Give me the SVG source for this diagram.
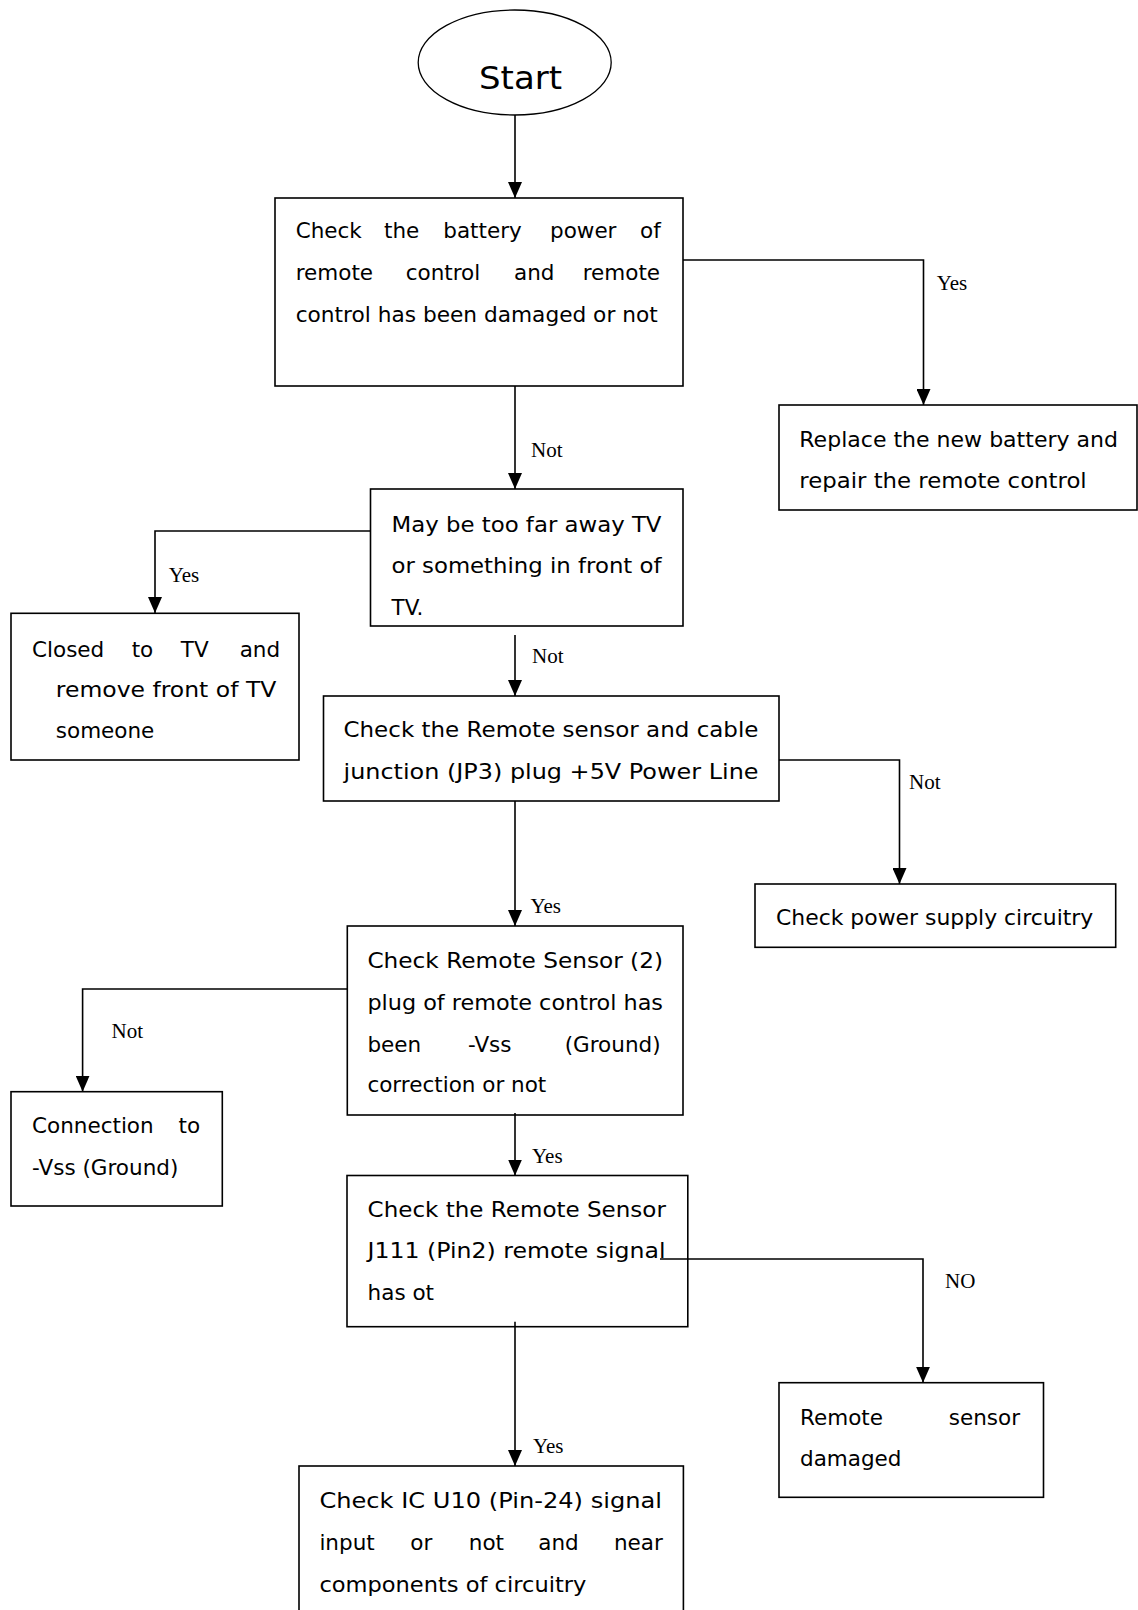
<svg xmlns="http://www.w3.org/2000/svg" width="1138" height="1610" viewBox="0 0 1138 1610">
<style>
.box{fill:#fff;stroke:#000;stroke-width:1.6}
.t{font-family:"DejaVu Sans",sans-serif;font-size:21.5px;fill:#000}
.lbl{font-family:"Liberation Serif",serif;font-size:21px;fill:#000}
.c{fill:none;stroke:#000;stroke-width:1.6}
</style>
<defs>
<marker id="ah" markerWidth="16" markerHeight="14" refX="16" refY="7" orient="auto" markerUnits="userSpaceOnUse" viewBox="0 0 16 14">
<path d="M0 0 L16 7 L0 14 Z" fill="#000"/>
</marker>
</defs>
<rect width="1138" height="1610" fill="#fff"/>
<g id="start">
<ellipse cx="514.7" cy="62.5" rx="96.5" ry="52.5" fill="#fff" stroke="#000" stroke-width="1.3"/>
<text class="t" style="font-size:32px" x="479" y="89" textLength="83" lengthAdjust="spacingAndGlyphs">Start</text>
</g>
<g id="box1">
<rect class="box" x="275" y="198" width="408" height="188"/>
<text class="t" y="238.3"><tspan x="295.7">Check</tspan><tspan x="384">the</tspan><tspan x="443.3">battery</tspan><tspan x="550">power</tspan><tspan x="640">of</tspan></text>
<text class="t" y="280"><tspan x="295.7">remote</tspan><tspan x="405.7">control</tspan><tspan x="514">and</tspan><tspan x="582.7">remote</tspan></text>
<text class="t" x="295.7" y="321.7" textLength="362" lengthAdjust="spacingAndGlyphs">control has been damaged or not</text>
</g>
<g id="replace">
<rect class="box" x="779" y="405" width="358" height="105"/>
<text class="t" x="799.3" y="446.7" textLength="318.7" lengthAdjust="spacingAndGlyphs">Replace the new battery and</text>
<text class="t" x="799.3" y="488.3" textLength="287.4" lengthAdjust="spacingAndGlyphs">repair the remote control</text>
</g>
<g id="box2">
<rect class="box" x="370.5" y="489" width="312.5" height="137"/>
<text class="t" x="391.5" y="531.7" textLength="270" lengthAdjust="spacingAndGlyphs">May be too far away TV</text>
<text class="t" x="391.5" y="573.3" textLength="270" lengthAdjust="spacingAndGlyphs">or something in front of</text>
<text class="t" x="391.5" y="615">TV.</text>
</g>
<g id="closed">
<rect class="box" x="11" y="613.3" width="288" height="146.7"/>
<text class="t" y="656.7"><tspan x="32">Closed</tspan><tspan x="131.7">to</tspan><tspan x="180.8">TV</tspan><tspan x="239.7">and</tspan></text>
<text class="t" x="55.8" y="696.7" textLength="220.5" lengthAdjust="spacingAndGlyphs">remove front of TV</text>
<text class="t" x="55.8" y="738.3">someone</text>
</g>
<g id="box3">
<rect class="box" x="323.5" y="696" width="455.5" height="105"/>
<text class="t" x="343.5" y="737" textLength="415" lengthAdjust="spacingAndGlyphs">Check the Remote sensor and cable</text>
<text class="t" x="343.5" y="779.3" textLength="415" lengthAdjust="spacingAndGlyphs">junction (JP3) plug +5V Power Line</text>
</g>
<g id="power">
<rect class="box" x="755" y="884" width="360.7" height="63.3"/>
<text class="t" x="776" y="925" textLength="317.3" lengthAdjust="spacingAndGlyphs">Check power supply circuitry</text>
</g>
<g id="box4">
<rect class="box" x="347.3" y="926" width="335.7" height="189"/>
<text class="t" x="367.4" y="968.3" textLength="295.6" lengthAdjust="spacingAndGlyphs">Check Remote Sensor (2)</text>
<text class="t" x="367.4" y="1010" textLength="295.6" lengthAdjust="spacingAndGlyphs">plug of remote control has</text>
<text class="t" y="1051.7"><tspan x="367.4">been</tspan><tspan x="467.9">-Vss</tspan><tspan x="564.7">(Ground)</tspan></text>
<text class="t" x="367.4" y="1091.7">correction or not</text>
</g>
<g id="connection">
<rect class="box" x="11" y="1091.7" width="211.3" height="114.3"/>
<text class="t" y="1133.3"><tspan x="32">Connection</tspan><tspan x="178.6">to</tspan></text>
<text class="t" x="32" y="1175">-Vss (Ground)</text>
</g>
<g id="box5">
<rect class="box" x="347" y="1175.5" width="340.8" height="151.2"/>
<text class="t" x="367.6" y="1216.7" textLength="298.3" lengthAdjust="spacingAndGlyphs">Check the Remote Sensor</text>
<text class="t" x="367.6" y="1258.3" textLength="298" lengthAdjust="spacingAndGlyphs">J111 (Pin2) remote signal</text>
<text class="t" x="367.6" y="1300">has ot</text>
</g>
<g id="remote">
<rect class="box" x="779" y="1382.7" width="264.5" height="114.6"/>
<text class="t" y="1425"><tspan x="800">Remote</tspan><tspan x="948.8">sensor</tspan></text>
<text class="t" x="800" y="1466">damaged</text>
</g>
<g id="final">
<rect class="box" x="299" y="1466" width="384.4" height="170"/>
<text class="t" x="319.4" y="1508.3" textLength="342.6" lengthAdjust="spacingAndGlyphs">Check IC U10 (Pin-24) signal</text>
<text class="t" y="1550"><tspan x="319.4">input</tspan><tspan x="410.3">or</tspan><tspan x="468.8">not</tspan><tspan x="538.3">and</tspan><tspan x="613.9">near</tspan></text>
<text class="t" x="319.4" y="1591.7" textLength="267" lengthAdjust="spacingAndGlyphs">components of circuitry</text>
</g>
<g id="connectors">
<path class="c" d="M515 115 V198" marker-end="url(#ah)"/>
<path class="c" d="M683 260 H923.5 V405" marker-end="url(#ah)"/>
<path class="c" d="M515 386 V489" marker-end="url(#ah)"/>
<path class="c" d="M370.5 531 H155 V613" marker-end="url(#ah)"/>
<path class="c" d="M515 635 V696" marker-end="url(#ah)"/>
<path class="c" d="M779 760 H899.5 V884" marker-end="url(#ah)"/>
<path class="c" d="M515 801 V926" marker-end="url(#ah)"/>
<path class="c" d="M347 989 H82.6 V1091.7" marker-end="url(#ah)"/>
<path class="c" d="M515 1113 V1175.5" marker-end="url(#ah)"/>
<path class="c" d="M660 1259 H923 V1382.7" marker-end="url(#ah)"/>
<path class="c" d="M515 1321.7 V1466" marker-end="url(#ah)"/>
<text class="lbl" x="936.7" y="290">Yes</text>
<text class="lbl" x="531" y="456.7">Not</text>
<text class="lbl" x="168.7" y="581.7">Yes</text>
<text class="lbl" x="532" y="663.3">Not</text>
<text class="lbl" x="909" y="789">Not</text>
<text class="lbl" x="530.4" y="913.3">Yes</text>
<text class="lbl" x="111.6" y="1038.3">Not</text>
<text class="lbl" x="532" y="1163.3">Yes</text>
<text class="lbl" x="945" y="1288.3">NO</text>
<text class="lbl" x="532.9" y="1453.3">Yes</text>
</g>
</svg>
